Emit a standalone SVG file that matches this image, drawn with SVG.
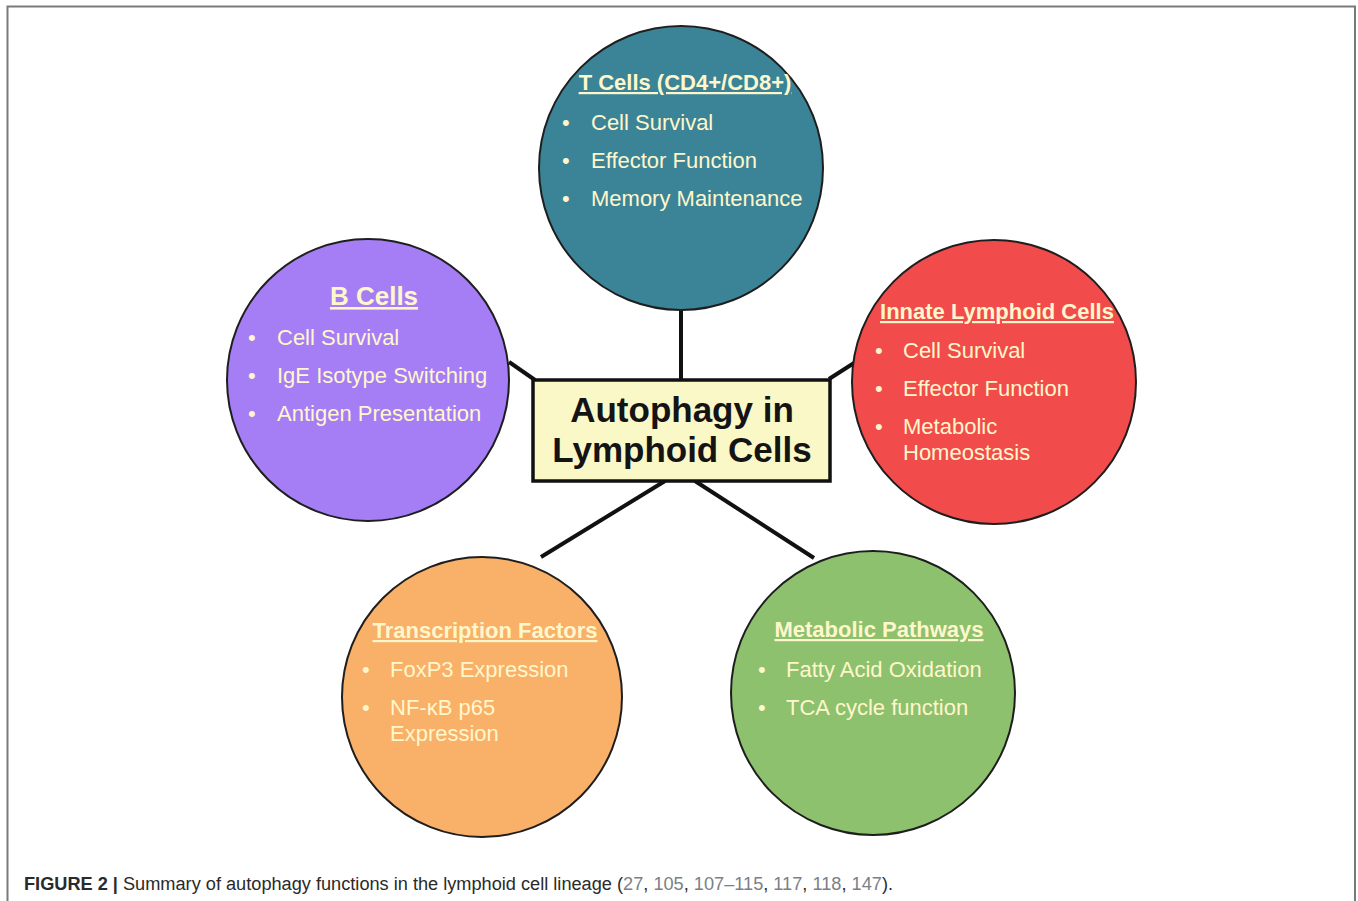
<svg xmlns="http://www.w3.org/2000/svg" width="1358" height="901" viewBox="0 0 1358 901">
<style>
.c{stroke:#1e1e1e;stroke-width:2}
.h{font-family:"Liberation Sans",Arial,sans-serif;font-weight:bold;font-size:22px;fill:#fff7cc;text-decoration:underline;text-anchor:middle}
.t{font-family:"Liberation Sans",Arial,sans-serif;font-size:22px;fill:#fff7cc}
.ln{stroke:#111;stroke-width:4;fill:none}
.ctr{font-family:"Liberation Sans",Arial,sans-serif;font-weight:bold;font-size:35px;fill:#141414;text-anchor:middle}
</style>
<rect width="1358" height="901" fill="#fff"/>
<path d="M7.5,901 V6.5 H1355 V901" fill="none" stroke="#7a7a7a" stroke-width="2"/>
<g id="connectors">
<line class="ln" x1="681" y1="309" x2="681" y2="380"/>
<line class="ln" x1="509" y1="362" x2="535" y2="380"/>
<line class="ln" x1="829" y1="379" x2="854" y2="363"/>
<line class="ln" x1="665" y1="481" x2="541" y2="557"/>
<line class="ln" x1="695" y1="481" x2="814" y2="558"/>
</g>
<g id="tcells">
<circle class="c" cx="681" cy="168" r="142" fill="#3b8497"/>
<text class="h" x="685" y="90">T Cells (CD4+/CD8+)</text>
<text class="t" x="562" y="130">•</text><text class="t" x="591" y="130">Cell Survival</text>
<text class="t" x="562" y="168">•</text><text class="t" x="591" y="168">Effector Function</text>
<text class="t" x="562" y="206">•</text><text class="t" x="591" y="206">Memory Maintenance</text>
</g>
<g id="bcells">
<circle class="c" cx="368" cy="380" r="141" fill="#a57ef6"/>
<text class="h" x="374" y="305" style="font-size:26px">B Cells</text>
<text class="t" x="248" y="345">•</text><text class="t" x="277" y="345">Cell Survival</text>
<text class="t" x="248" y="383">•</text><text class="t" x="277" y="383">IgE Isotype Switching</text>
<text class="t" x="248" y="421">•</text><text class="t" x="277" y="421">Antigen Presentation</text>
</g>
<g id="ilc">
<circle class="c" cx="994" cy="382" r="142" fill="#f14c4b"/>
<text class="h" x="997" y="319">Innate Lymphoid Cells</text>
<text class="t" x="875" y="358">•</text><text class="t" x="903" y="358">Cell Survival</text>
<text class="t" x="875" y="396">•</text><text class="t" x="903" y="396">Effector Function</text>
<text class="t" x="875" y="434">•</text><text class="t" x="903" y="434">Metabolic</text>
<text class="t" x="903" y="460">Homeostasis</text>
</g>
<g id="transcription">
<circle class="c" cx="482" cy="697" r="140" fill="#f9b068"/>
<text class="h" x="485" y="638">Transcription Factors</text>
<text class="t" x="362" y="677">•</text><text class="t" x="390" y="677">FoxP3 Expression</text>
<text class="t" x="362" y="715">•</text><text class="t" x="390" y="715">NF-κB p65</text>
<text class="t" x="390" y="741">Expression</text>
</g>
<g id="metabolic">
<circle class="c" cx="873" cy="693" r="142" fill="#8dc16e"/>
<text class="h" x="879" y="637">Metabolic Pathways</text>
<text class="t" x="758" y="677">•</text><text class="t" x="786" y="677">Fatty Acid Oxidation</text>
<text class="t" x="758" y="715">•</text><text class="t" x="786" y="715">TCA cycle function</text>
</g>
<g id="center">
<rect x="533" y="380" width="297" height="101" fill="#fbf8c8" stroke="#111" stroke-width="3.5"/>
<text class="ctr" x="682" y="422">Autophagy in</text>
<text class="ctr" x="682" y="462">Lymphoid Cells</text>
</g>
<text x="24" y="890" textLength="869" lengthAdjust="spacingAndGlyphs" style="font-family:'Liberation Sans',Arial,sans-serif;font-size:18px;fill:#2a2a2a"><tspan font-weight="bold">FIGURE 2 | </tspan>Summary of autophagy functions in the lymphoid cell lineage (<tspan fill="#7a7f88">27</tspan>, <tspan fill="#7a7f88">105</tspan>, <tspan fill="#7a7f88">107–115</tspan>, <tspan fill="#7a7f88">117</tspan>, <tspan fill="#7a7f88">118</tspan>, <tspan fill="#7a7f88">147</tspan>).</text>
</svg>
